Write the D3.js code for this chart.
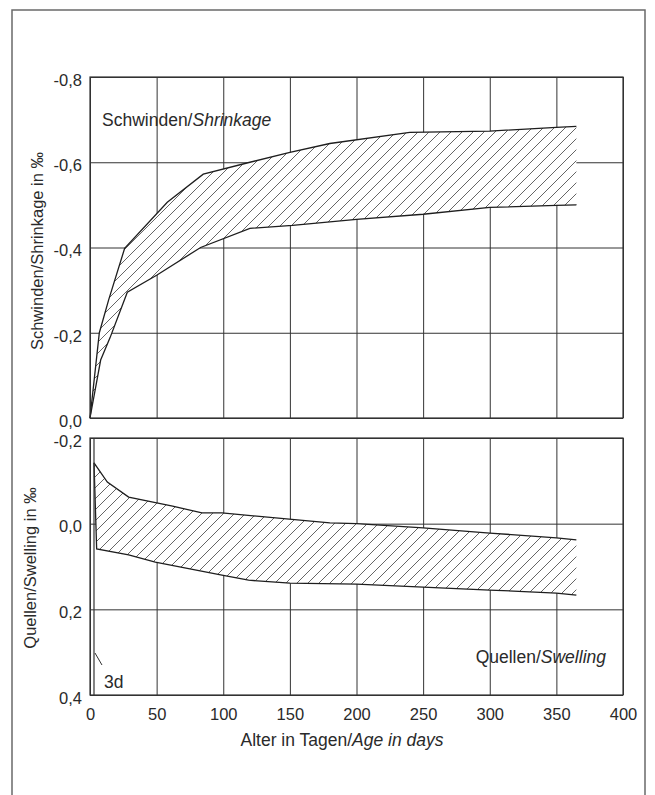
<!DOCTYPE html>
<html>
<head>
<meta charset="utf-8">
<script src="https://cdn.jsdelivr.net/npm/d3@7"></script>
<style>
  body { margin: 0; background: #fff; }
  svg text { font-family: "Liberation Sans", Arial, sans-serif; fill: #2a2a2a; }
</style>
</head>
<body>
<svg width="655" height="795"></svg>
<script>
// day ticks and value ticks
const dayTicks = [0, 50, 100, 150, 200, 250, 300, 350, 400];
const shrinkTicks = [0, -0.2, -0.4, -0.6, -0.8];
const swellTicks = [-0.2, 0, 0.2, 0.4];

// Schwinden / shrinkage band (per mille)
const shrinkMaxDays = [0, 7, 14, 26, 58, 85, 120, 150, 180, 240, 300, 350, 365];
const shrinkMaxValues = [0, -0.2, -0.277, -0.398, -0.506, -0.572, -0.6, -0.623, -0.644, -0.67, -0.673, -0.682, -0.684];
const shrinkMinDays = [0, 8, 15, 28, 50, 83, 120, 152, 200, 250, 300, 350, 365];
const shrinkMinValues = [0, -0.136, -0.188, -0.295, -0.335, -0.4, -0.445, -0.452, -0.466, -0.478, -0.494, -0.499, -0.5];

// Quellen / swelling band
const swellMaxDays = [3, 13, 29, 62, 84, 99, 180, 200, 250, 300, 350, 365];
const swellMaxValues = [-0.142, -0.097, -0.062, -0.041, -0.025, -0.025, -0.002, 0.0, 0.01, 0.022, 0.033, 0.038];
const swellMinDays = [3, 5, 29, 49, 99, 119, 150, 200, 250, 300, 350, 365];
const swellMinValues = [-0.142, 0.059, 0.073, 0.09, 0.12, 0.132, 0.139, 0.141, 0.148, 0.155, 0.162, 0.167];

const markerDay = 3;

const svg = d3.select('svg');
const locale = d3.formatLocale({decimal: ',', thousands: '.', grouping: [3], currency: ['', ''], minus: '-'});
const fmt = locale.format('.1f');

const left = 90;
const right = 623;
const x = d3.scaleLinear().domain([0, 400]).range([left, right]);
const yTop = d3.scaleLinear().domain([0, -0.8]).range([418, 77]);
const yBot = d3.scaleLinear().domain([-0.2, 0.4]).range([438, 695]);

// outer frame (bottom edge runs off the page)
svg.append('path')
  .attr('d', 'M12,800 V10 H645 V800')
  .attr('fill', 'none')
  .attr('stroke', '#6a6a6a')
  .attr('stroke-width', 1.5);

// hatch pattern
const pat = svg.append('defs').append('pattern')
  .attr('id', 'hatch')
  .attr('patternUnits', 'userSpaceOnUse')
  .attr('width', 11)
  .attr('height', 11);
pat.append('path')
  .attr('d', 'M-3,3 L3,-3 M0,11 L11,0 M8,14 L14,8')
  .attr('stroke', '#333')
  .attr('stroke-width', 0.75);

function toPoints(days, values) {
  return days.map((d, i) => [d, values[i]]);
}

function drawPanel(y, ticks, hi, lo, showDays) {
  const top = y.range()[1] < y.range()[0] ? y.range()[1] : y.range()[0];
  const bottom = y.range()[1] < y.range()[0] ? y.range()[0] : y.range()[1];
  const h = bottom - top;
  const g = svg.append('g');

  // vertical grid
  g.append('g')
    .attr('transform', `translate(0,${bottom})`)
    .call(d3.axisBottom(x).tickValues(dayTicks).tickSize(-h).tickPadding(13)
      .tickFormat(showDays ? d3.format('d') : ''))
    .call(a => a.select('.domain').remove())
    .call(a => a.selectAll('line').attr('stroke', '#333').attr('stroke-width', 1))
    .call(a => a.selectAll('text').attr('font-size', 16.5).attr('fill', '#2a2a2a')
      .style('font-family', '"Liberation Sans", Arial, sans-serif'));

  // horizontal grid + labels
  g.append('g')
    .attr('transform', `translate(${left},0)`)
    .call(d3.axisLeft(y).tickValues(ticks).tickSize(-(right - left)).tickPadding(8).tickFormat(fmt))
    .call(a => a.select('.domain').remove())
    .call(a => a.selectAll('line').attr('stroke', '#333').attr('stroke-width', 1))
    .call(a => a.selectAll('text').attr('font-size', 16.5).attr('dy', '0.5em').attr('fill', '#2a2a2a')
      .style('font-family', '"Liberation Sans", Arial, sans-serif'));

  // band: white fill over the grid, then hatch
  const band = hi.concat(lo.slice().reverse());
  const area = d3.line().x(d => x(d[0])).y(d => y(d[1]));
  g.append('path').attr('d', area(band) + 'Z').attr('fill', '#fff');
  g.append('path').attr('d', area(band) + 'Z').attr('fill', 'url(#hatch)');
  [hi, lo].forEach((pts) => {
    g.append('path')
      .attr('d', area(pts))
      .attr('fill', 'none')
      .attr('stroke', '#1e1e1e')
      .attr('stroke-width', 1.3);
  });

  // panel frame
  g.append('rect')
    .attr('x', left).attr('y', top)
    .attr('width', right - left).attr('height', h)
    .attr('fill', 'none')
    .attr('stroke', '#333')
    .attr('stroke-width', 1.2);
  return g;
}

drawPanel(yTop, shrinkTicks,
  toPoints(shrinkMaxDays, shrinkMaxValues), toPoints(shrinkMinDays, shrinkMinValues), false);
const bot = drawPanel(yBot, swellTicks,
  toPoints(swellMaxDays, swellMaxValues), toPoints(swellMinDays, swellMinValues), true);

// 3 day marker line and label
bot.append('line')
  .attr('x1', x(markerDay)).attr('x2', x(markerDay))
  .attr('y1', yBot(-0.2)).attr('y2', yBot(0.4))
  .attr('stroke', '#333').attr('stroke-width', 1.2);
bot.append('line')
  .attr('x1', x(markerDay) + 1).attr('y1', 653)
  .attr('x2', x(markerDay) + 8).attr('y2', 665)
  .attr('stroke', '#333').attr('stroke-width', 1);
bot.append('text')
  .attr('x', 104).attr('y', 688)
  .attr('font-size', 17.5)
  .text('3d');

// annotations
const t1 = svg.append('text').attr('x', 102).attr('y', 126).attr('font-size', 17.5);
t1.append('tspan').text('Schwinden/');
t1.append('tspan').attr('font-style', 'italic').text('Shrinkage');

const t2 = svg.append('text').attr('x', 606).attr('y', 663).attr('font-size', 17.5).attr('text-anchor', 'end');
t2.append('tspan').text('Quellen/');
t2.append('tspan').attr('font-style', 'italic').text('Swelling');

// axis titles
const xt = svg.append('text').attr('x', 342).attr('y', 746).attr('font-size', 17.5).attr('text-anchor', 'middle');
xt.append('tspan').text('Alter in Tagen/');
xt.append('tspan').attr('font-style', 'italic').text('Age in days');

svg.append('text')
  .attr('transform', 'translate(43,251) rotate(-90)')
  .attr('text-anchor', 'middle')
  .attr('font-size', 16.5)
  .text('Schwinden/Shrinkage in ‰');

svg.append('text')
  .attr('transform', 'translate(36,568) rotate(-90)')
  .attr('text-anchor', 'middle')
  .attr('font-size', 16.5)
  .text('Quellen/Swelling in ‰');
</script>
</body>
</html>
